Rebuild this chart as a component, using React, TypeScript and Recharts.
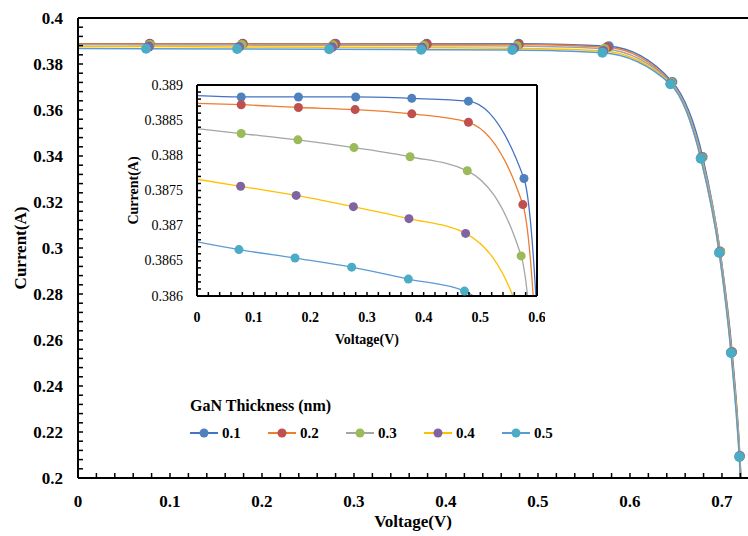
import React from 'react';
import { LineChart, Line, XAxis, YAxis, ReferenceLine, Legend } from 'recharts';

// GaN thickness series (legend labels)
const SERIES_NAMES = ['0.1', '0.2', '0.3', '0.4', '0.5'];
const LINE_COLORS = ['#4472C4', '#ED7D31', '#A5A5A5', '#FFC000', '#5B9BD5'];
const MARKER_COLORS = ['#4F81BD', '#C0504D', '#9BBB59', '#8064A2', '#4BACC6'];

// voltage (V) / current (A), one pair per thickness
const V_01 = [0, 0.078, 0.179, 0.28, 0.379, 0.479, 0.577, 0.646, 0.679, 0.698, 0.711, 0.7195, 0.724];
const I_01 = [0.38885, 0.38883, 0.38883, 0.38883, 0.38881, 0.38877, 0.38767, 0.3722, 0.3396, 0.2985, 0.2548, 0.2096, 0.17];
const V_02 = [0, 0.078, 0.179, 0.279, 0.379, 0.479, 0.575, 0.645, 0.678, 0.698, 0.7105, 0.7193, 0.724];
const I_02 = [0.38874, 0.38872, 0.38868, 0.38865, 0.38859, 0.38847, 0.3873, 0.3719, 0.3394, 0.2983, 0.2547, 0.2095, 0.17];
const V_03 = [0, 0.078, 0.178, 0.277, 0.376, 0.477, 0.572, 0.645, 0.678, 0.698, 0.7103, 0.7192, 0.724];
const I_03 = [0.38838, 0.38831, 0.38822, 0.38811, 0.38798, 0.38778, 0.38657, 0.3717, 0.3392, 0.2982, 0.2546, 0.2094, 0.17];
const V_04 = [0, 0.077, 0.175, 0.276, 0.374, 0.474, 0.571, 0.644, 0.677, 0.697, 0.71, 0.719, 0.724];
const I_04 = [0.38766, 0.38756, 0.38743, 0.38727, 0.3871, 0.38689, 0.3857, 0.3714, 0.339, 0.298, 0.2545, 0.2093, 0.17];
const V_05 = [0, 0.074, 0.173, 0.273, 0.373, 0.472, 0.57, 0.644, 0.677, 0.697, 0.7098, 0.7188, 0.724];
const I_05 = [0.38677, 0.38666, 0.38654, 0.38641, 0.38624, 0.38607, 0.3849, 0.3712, 0.3388, 0.2979, 0.2544, 0.2092, 0.17];

const VOLTS = [V_01, V_02, V_03, V_04, V_05];
const CURRENTS = [I_01, I_02, I_03, I_04, I_05];

// ticks
const MAIN_X_TICKS = Array.from({ length: 37 }, (_, k) => +(k * 0.02).toFixed(2));
const MAIN_Y_TICKS = Array.from({ length: 51 }, (_, k) => +(0.2 + k * 0.004).toFixed(3));
const INSET_X_TICKS = Array.from({ length: 31 }, (_, k) => +(k * 0.02).toFixed(2));
const INSET_Y_TICKS = Array.from({ length: 31 }, (_, k) => +(0.386 + k * 0.0001).toFixed(4));

const FONT = '"Liberation Serif", "Times New Roman", serif';

const series = SERIES_NAMES.map((name, s) => ({
  name,
  line: LINE_COLORS[s],
  marker: MARKER_COLORS[s],
  data: VOLTS[s].map((v, k) => ({ v, i: CURRENTS[s][k] })),
}));

const fmt = (v: number) => String(Number(v.toFixed(4)));

const makeDot = (color: string, r: number) => (p: any) => {
  if (p.index === 0 || p.cx == null || p.cy == null) return <g key={`e${p.index}`} />;
  return <circle key={`d${p.index}`} cx={p.cx} cy={p.cy} r={r} fill={color} stroke="none" />;
};

const MainYTick = ({ x, y, payload }: any) => {
  const v = payload.value;
  const major = Math.round(v * 1000) % 20 === 0;
  return (
    <g>
      <line x1={x} y1={y} x2={x + 5} y2={y} stroke="#000" strokeWidth={1.5} />
      {major && (
        <text x={x - 15} y={y} textAnchor="end" dominantBaseline="central" fontFamily={FONT} fontWeight="bold" fontSize={17} fill="#000">
          {fmt(v)}
        </text>
      )}
    </g>
  );
};

const MainXTick = ({ x, y, payload }: any) => {
  const v = payload.value;
  const major = Math.round(v * 100) % 10 === 0;
  return (
    <g>
      <line x1={x} y1={y} x2={x} y2={y - 5} stroke="#000" strokeWidth={1.5} />
      {major && (
        <text x={x} y={y + 23} textAnchor="middle" dominantBaseline="central" fontFamily={FONT} fontWeight="bold" fontSize={17} fill="#000">
          {fmt(v)}
        </text>
      )}
    </g>
  );
};

const InsetYTick = ({ x, y, payload }: any) => {
  const v = payload.value;
  const major = Math.round(v * 10000) % 5 === 0;
  return (
    <g>
      <line x1={x} y1={y} x2={x + 4} y2={y} stroke="#000" strokeWidth={1.5} />
      {major && (
        <text x={x - 14} y={y} textAnchor="end" dominantBaseline="central" fontFamily={FONT} fontSize={14} fill="#000">
          {fmt(v)}
        </text>
      )}
    </g>
  );
};

const InsetXTick = ({ x, y, payload }: any) => {
  const v = payload.value;
  const major = Math.round(v * 100) % 10 === 0;
  return (
    <g>
      <line x1={x} y1={y} x2={x} y2={y - 4} stroke="#000" strokeWidth={1.5} />
      {major && (
        <text x={x} y={y + 21} textAnchor="middle" dominantBaseline="central" fontFamily={FONT} fontWeight="bold" fontSize={14} fill="#000">
          {fmt(v)}
        </text>
      )}
    </g>
  );
};

const yTitle = (text: string, cx: number, size: number) => (props: any) => {
  const vb = props.viewBox || { y: 0, height: 0 };
  const cy = vb.y + vb.height / 2;
  return (
    <text x={cx} y={cy} transform={`rotate(-90 ${cx} ${cy})`} textAnchor="middle" dominantBaseline="central" fontFamily={FONT} fontWeight="bold" fontSize={size} fill="#000">
      {text}
    </text>
  );
};

const xTitle = (text: string, cy: number, size: number) => (props: any) => {
  const vb = props.viewBox || { x: 0, width: 0 };
  const cx = vb.x + vb.width / 2;
  return (
    <text x={cx} y={cy} textAnchor="middle" dominantBaseline="central" fontFamily={FONT} fontWeight="bold" fontSize={size} fill="#000">
      {text}
    </text>
  );
};

const LegendBox = () => (
  <svg width={420} height={56} style={{ display: 'block' }}>
    <text x={5} y={15} dominantBaseline="central" fontFamily={FONT} fontWeight="bold" fontSize={16} fill="#000">
      GaN Thickness (nm)
    </text>
    {series.map((s, k) => {
      const x0 = 5 + k * 78;
      return (
        <g key={s.name}>
          <line x1={x0} y1={43} x2={x0 + 28} y2={43} stroke={s.line} strokeWidth={2} />
          <circle cx={x0 + 14} cy={43} r={4.5} fill={s.marker} />
          <text x={x0 + 32} y={43} dominantBaseline="central" fontFamily={FONT} fontWeight="bold" fontSize={15} fill="#000">
            {s.name}
          </text>
        </g>
      );
    })}
  </svg>
);

export default function App() {
  return (
    <div style={{ position: 'absolute', left: 0, top: 0, width: 748, height: 536, background: '#fff', overflow: 'hidden' }}>
      <LineChart width={748} height={536} margin={{ top: 18, right: 0, bottom: 0, left: 0 }}>
        <XAxis
          type="number"
          dataKey="v"
          domain={[0, 0.7283]}
          allowDataOverflow
          ticks={MAIN_X_TICKS}
          interval={0}
          tick={MainXTick}
          tickLine={false}
          tickSize={0}
          tickMargin={0}
          height={58}
          axisLine={{ stroke: '#000', strokeWidth: 2 }}
          label={{ content: xTitle('Voltage(V)', 521, 17) }}
        />
        <YAxis
          type="number"
          domain={[0.2, 0.4]}
          allowDataOverflow
          ticks={MAIN_Y_TICKS}
          interval={0}
          tick={MainYTick}
          tickLine={false}
          tickSize={0}
          tickMargin={0}
          width={78}
          axisLine={{ stroke: '#000', strokeWidth: 2 }}
          label={{ content: yTitle('Current(A)', 20, 17) }}
        />
        <ReferenceLine y={0.4} stroke="#000" strokeWidth={2} />
        {series.map((s) => (
          <Line
            key={s.name}
            data={s.data}
            dataKey="i"
            name={s.name}
            type="monotone"
            stroke={s.line}
            strokeWidth={1.5}
            dot={makeDot(s.marker, 5)}
            activeDot={false}
            isAnimationActive={false}
          />
        ))}
        <Legend
          layout="vertical"
          align="center"
          verticalAlign="middle"
          wrapperStyle={{ left: 185, top: 390, width: 420, height: 56 }}
          content={() => <LegendBox />}
        />
      </LineChart>

      <div style={{ position: 'absolute', left: 120, top: 75, width: 425, height: 280, background: '#fff' }}>
        <LineChart width={425} height={280} margin={{ top: 10, right: 8, bottom: 0, left: 0 }}>
          <XAxis
            type="number"
            dataKey="v"
            domain={[0, 0.6]}
            allowDataOverflow
            ticks={INSET_X_TICKS}
            interval={0}
            tick={InsetXTick}
            tickLine={false}
            tickSize={0}
            tickMargin={0}
            height={59}
            axisLine={{ stroke: '#000', strokeWidth: 2 }}
            label={{ content: xTitle('Voltage(V)', 264, 14) }}
          />
          <YAxis
            type="number"
            domain={[0.386, 0.389]}
            allowDataOverflow
            ticks={INSET_Y_TICKS}
            interval={0}
            tick={InsetYTick}
            tickLine={false}
            tickSize={0}
            tickMargin={0}
            width={77}
            axisLine={{ stroke: '#000', strokeWidth: 2 }}
            label={{ content: yTitle('Current(A)', 13, 14) }}
          />
          <ReferenceLine y={0.389} stroke="#000" strokeWidth={2} />
          <ReferenceLine x={0.6} stroke="#000" strokeWidth={2} />
          {series.map((s) => (
            <Line
              key={s.name}
              data={s.data}
              dataKey="i"
              name={s.name}
              type="monotone"
              stroke={s.line}
              strokeWidth={1.3}
              dot={makeDot(s.marker, 4.5)}
              activeDot={false}
              isAnimationActive={false}
            />
          ))}
        </LineChart>
      </div>
    </div>
  );
}
